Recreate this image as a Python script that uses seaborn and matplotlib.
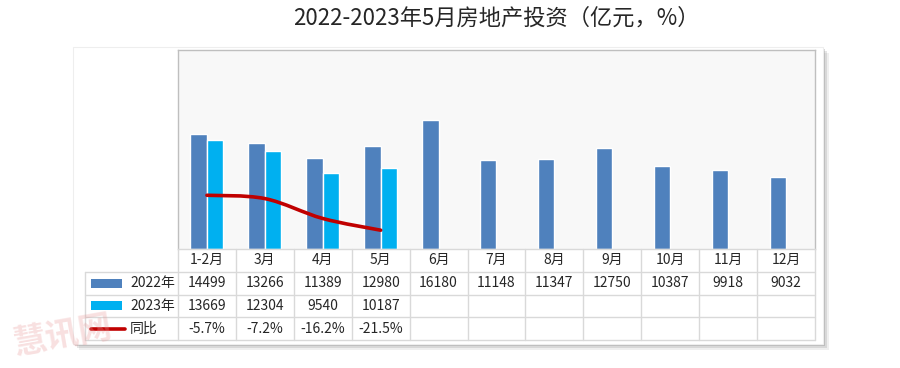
import matplotlib
matplotlib.use("Agg")
import matplotlib.pyplot as plt
import numpy as np
import pandas as pd
import seaborn as sns
from matplotlib.patches import PathPatch, Rectangle
from matplotlib.path import Path
from matplotlib.lines import Line2D

months = ["1-2月", "3月", "4月", "5月", "6月", "7月", "8月", "9月", "10月", "11月", "12月"]
invest_2022 = [14499, 13266, 11389, 12980, 16180, 11148, 11347, 12750, 10387, 9918, 9032]
invest_2023 = [13669, 12304, 9540, 10187]
yoy = [-5.7, -7.2, -16.2, -21.5]
years = ["2022年", "2023年"]

TITLE = "2022-2023年5月房地产投资（亿元，%）"
C22, C23, CLINE = "#4F81BD", "#00B0F0", "#C00000"
GRID = "#D9D9D9"

W, H = 900, 368


def fx(px):
    return px / W


def fy(py):
    return 1 - py / H


sns.set_style("white")
plt.rcParams["font.family"] = ["Noto Sans CJK SC", "DejaVu Sans"]

fig = plt.figure(figsize=(9, 3.68), dpi=100)

# outer chart frame with a soft shadow
for off, a in [(6, 0.12), (4, 0.2), (2, 0.3)]:
    fig.add_artist(Rectangle((fx(73 + off), fy(344 + off)), fx(750), 297 / H,
                             transform=fig.transFigure, facecolor="#808080",
                             edgecolor="none", alpha=a, zorder=-3))
fig.add_artist(Rectangle((fx(73), fy(344)), fx(750), 297 / H,
                         transform=fig.transFigure, facecolor="white",
                         edgecolor="#EEEEEE", lw=0.8, zorder=-2))

fig.text(fx(496), fy(18), TITLE, fontsize=16, ha="center", va="center")

# plot area
left, right, top, bottom = 178, 815, 50, 249
ax = fig.add_axes([fx(left), fy(bottom), fx(right - left), (bottom - top) / H])
rows = []
for i, m in enumerate(months):
    rows.append({"month": m, "year": years[0], "value": invest_2022[i]})
    v = invest_2023[i] if i < len(invest_2023) else np.nan
    rows.append({"month": m, "year": years[1], "value": v})
df = pd.DataFrame(rows)
sns.barplot(data=df, x="month", y="value", hue="year", hue_order=years,
            order=months, palette=[C22, C23], width=0.57, gap=0,
            errorbar=None, ax=ax, legend=False, saturation=1)
ax.set_xlim(-0.5, len(months) - 0.5)
ax.set_ylim(0, 25000)
ax.set_facecolor("#F8F8F8")
ax.set_xticks([])
ax.set_yticks([])
ax.set_xlabel("")
ax.set_ylabel("")
for s in ax.spines.values():
    s.set_color("#BFBFBF")
    s.set_linewidth(1)
ax.spines["bottom"].set_color(GRID)

# smoothed year-on-year line on a hidden secondary axis
ax2 = ax.twinx()
ax2.set_ylim(-30, 60)
ax2.set_axis_off()
pts = np.column_stack([np.arange(len(yoy)), yoy]).astype(float)
ext = np.vstack([pts[0], pts, pts[-1]])
verts, codes = [pts[0]], [Path.MOVETO]
for i in range(len(pts) - 1):
    p0, p1, p2, p3 = ext[i], ext[i + 1], ext[i + 2], ext[i + 3]
    verts += [p1 + (p2 - p0) / 6, p2 - (p3 - p1) / 6, p2]
    codes += [Path.CURVE4] * 3
ax2.add_patch(PathPatch(Path(verts, codes), facecolor="none", edgecolor=CLINE,
                        lw=2.6, capstyle="round"))

# data table
tleft, tbot = 85, 340
tax = fig.add_axes([fx(tleft), fy(tbot), fx(right - tleft), (tbot - bottom) / H])
cw = (right - left) / len(months)
x0 = -(left - tleft) / cw - 0.5
tax.set_xlim(x0, len(months) - 0.5)
tax.set_ylim(4, 0)
tax.set_axis_off()
n = len(months)
for k in range(1, 5):
    tax.plot([x0, n - 0.5], [k, k], color=GRID, lw=1, clip_on=False)
tax.plot([x0, x0], [1, 4], color=GRID, lw=1, clip_on=False)
for k in range(n + 1):
    tax.plot([k - 0.5, k - 0.5], [0, 4], color=GRID, lw=1, clip_on=False)

fs = 10
for i, m in enumerate(months):
    tax.text(i, 0.5, m, ha="center", va="center", fontsize=fs)
    tax.text(i, 1.5, f"{invest_2022[i]}", ha="center", va="center", fontsize=fs)
for i, v in enumerate(invest_2023):
    tax.text(i, 2.5, f"{v}", ha="center", va="center", fontsize=fs)
for i, v in enumerate(yoy):
    tax.text(i, 3.5, f"{v:.1f}%", ha="center", va="center", fontsize=fs)

# legend keys in the first column
kx0 = x0 + 6 / cw
kw = 31 / cw
for r, (lab, col) in enumerate(zip(years, [C22, C23]), start=1):
    tax.add_patch(Rectangle((kx0, r + 0.3), kw, 0.4, facecolor=col, edgecolor="none"))
    tax.text(kx0 + 39 / cw, r + 0.5, lab, ha="left", va="center", fontsize=fs)
tax.add_line(Line2D([kx0, kx0 + 34 / cw], [3.5, 3.5], color=CLINE, lw=2.6))
tax.text(kx0 + 39 / cw, 3.5, "同比", ha="left", va="center", fontsize=fs)

# faint watermark
fig.text(fx(62), fy(336), "慧讯网", fontsize=24, fontweight="bold",
         color="#E99A9A", alpha=0.3, rotation=10, ha="center", va="center", zorder=5)

fig.savefig("out.png", dpi=100)
